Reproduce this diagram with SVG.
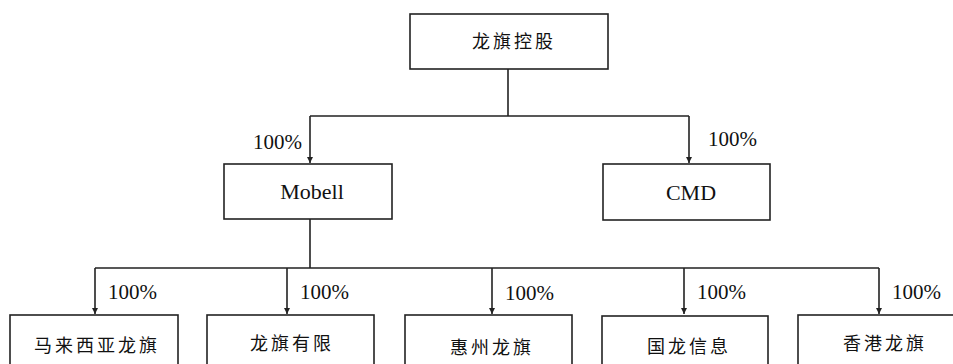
<svg xmlns="http://www.w3.org/2000/svg" width="953" height="364" viewBox="0 0 953 364">
<defs>
<marker id="ah" viewBox="0 0 10 10" refX="10" refY="5" markerWidth="6" markerHeight="6" markerUnits="userSpaceOnUse" orient="auto">
<path d="M0,0 L10,5 L0,10 z" fill="#222"/>
</marker>
<style>
.box{fill:#fff;stroke:#222;stroke-width:1.6}
.ln{fill:none;stroke:#222;stroke-width:1.6}
.cn{font-family:"Noto Sans CJK SC","Noto Sans",sans-serif;font-size:18px;fill:#111;text-anchor:middle;letter-spacing:3px}
.en{font-family:"Liberation Serif",serif;font-size:22px;fill:#111;text-anchor:middle}
.pc{font-family:"Liberation Serif",serif;font-size:21px;fill:#111}
</style>
</defs>
<rect width="953" height="364" fill="#fff"/>
<g id="connectors">
<path class="ln" d="M508,69 V116 M310,116 H689"/>
<path class="ln" d="M310,116 V163" marker-end="url(#ah)"/>
<path class="ln" d="M689,116 V163" marker-end="url(#ah)"/>
<path class="ln" d="M310,219 V268 M95,268 H879"/>
<path class="ln" d="M95,268 V314" marker-end="url(#ah)"/>
<path class="ln" d="M287,268 V314" marker-end="url(#ah)"/>
<path class="ln" d="M492,268 V314" marker-end="url(#ah)"/>
<path class="ln" d="M684,268 V314" marker-end="url(#ah)"/>
<path class="ln" d="M879,268 V314" marker-end="url(#ah)"/>
<text class="pc" x="253" y="149">100%</text>
<text class="pc" x="708" y="146">100%</text>
<text class="pc" x="108" y="299">100%</text>
<text class="pc" x="300" y="299">100%</text>
<text class="pc" x="505" y="300">100%</text>
<text class="pc" x="697" y="299">100%</text>
<text class="pc" x="892" y="299">100%</text>
</g>
<g id="n-top"><rect class="box" x="410" y="14" width="198" height="55"/><text class="cn" x="514" y="48">龙旗控股</text></g>
<g id="n-mobell"><rect class="box" x="224" y="164" width="168" height="55"/><text class="en" x="312" y="199">Mobell</text></g>
<g id="n-cmd"><rect class="box" x="603" y="164" width="167" height="56"/><text class="en" x="691" y="200">CMD</text></g>
<g id="n-my"><rect class="box" x="10" y="315" width="168" height="60"/><text class="cn" x="97" y="352">马来西亚龙旗</text></g>
<g id="n-ltd"><rect class="box" x="207" y="315" width="167" height="60"/><text class="cn" x="292" y="350">龙旗有限</text></g>
<g id="n-hz"><rect class="box" x="405" y="315" width="167" height="60"/><text class="cn" x="492" y="354">惠州龙旗</text></g>
<g id="n-gl"><rect class="box" x="602" y="316" width="166" height="60"/><text class="cn" x="689" y="353">国龙信息</text></g>
<g id="n-hk"><rect class="box" x="798" y="315" width="168" height="60"/><text class="cn" x="885" y="350">香港龙旗</text></g>
</svg>
